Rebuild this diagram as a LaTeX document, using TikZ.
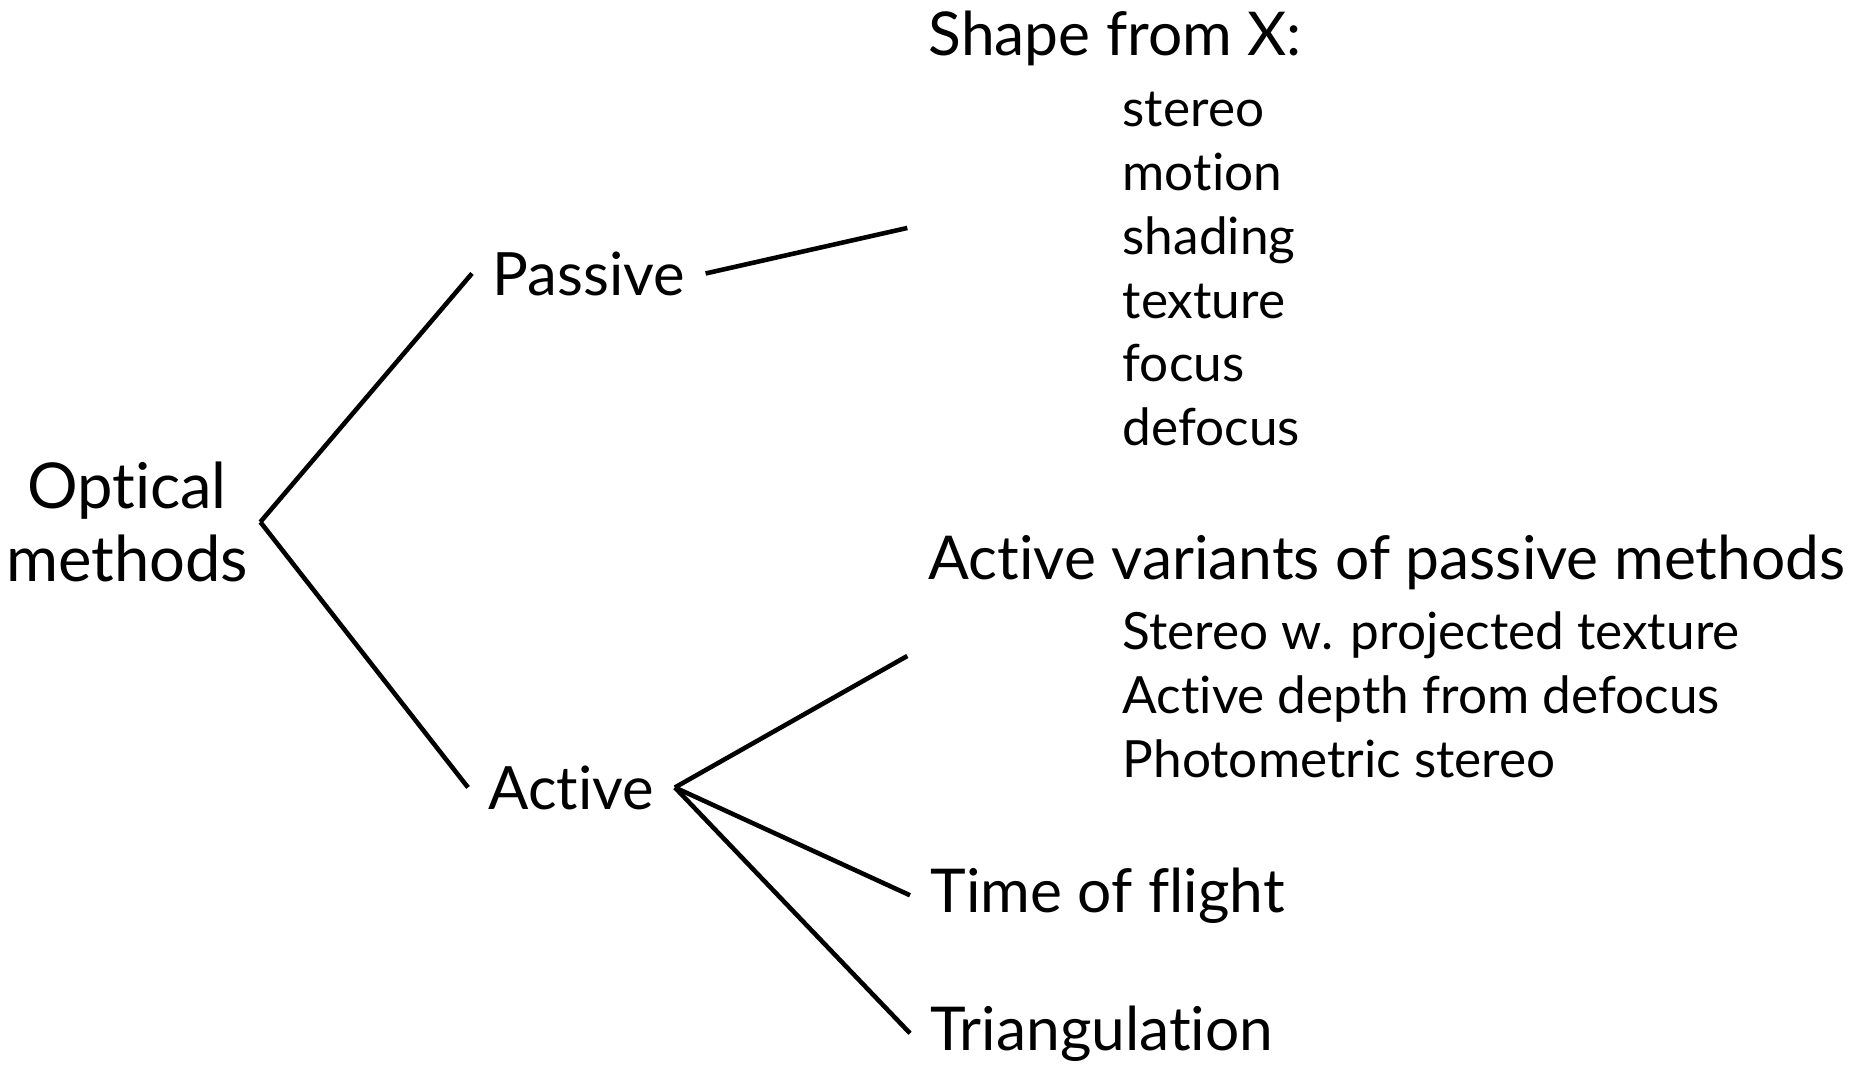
\documentclass[tikz,border=0pt]{standalone}
\usepackage{fontspec}
\setmainfont{Lato}[Ligatures=NoCommon]
\usetikzlibrary{positioning, calc, fit}

\begin{document}
\begin{tikzpicture}[
  font=\fontsize{17}{20}\selectfont,
  omtext/.style={anchor=base west, inner sep=0.2cm},
  omhead/.style={omtext, font=\fontsize{17.2}{20}\selectfont},
  omitem/.style={omtext, font=\fontsize{14.6}{17}\selectfont},
  omline/.style={draw=black, line width=1.3pt},
  omgroup/.style={inner sep=0pt}
]
\useasboundingbox (0,0) rectangle (18.54,-10.64);

%--------------------------------------------------------------
% Radice e primo livello
%--------------------------------------------------------------
\node[align=center, font=\fontsize{18}{20.8}\selectfont] (optical) at (1.27,-5.22)
  {Optical\\ methods};

\node[omtext] (passive) at (4.72,-2.95) {Passive};
\node[omtext] (active)  at (4.68,-8.09) {Active};

%--------------------------------------------------------------
% Metodi passivi
%--------------------------------------------------------------
\node[omhead] (shapehd) at (9.08,-0.55) {Shape from X:};
\node[omitem] (sx1) at (11.02,-1.26) {stereo};
\node[omitem] (sx2) at (11.02,-1.90) {motion};
\node[omitem] (sx3) at (11.02,-2.54) {shading};
\node[omitem] (sx4) at (11.02,-3.18) {texture};
\node[omitem] (sx5) at (11.02,-3.81) {focus};
\node[omitem] (sx6) at (11.02,-4.45) {defocus};
\node[omgroup, fit=(shapehd)(sx1)(sx2)(sx3)(sx4)(sx5)(sx6)] (shapex) {};

%--------------------------------------------------------------
% Metodi attivi
%--------------------------------------------------------------
\node[omhead] (actvarhd) at (9.08,-5.79) {Active variants of passive methods};
\node[omitem] (av1) at (11.02,-6.49) {Stereo w. projected texture};
\node[omitem] (av2) at (11.02,-7.13) {Active depth from defocus};
\node[omitem] (av3) at (11.02,-7.77) {Photometric stereo};
\node[omgroup, fit=(actvarhd)(av1)(av2)(av3)] (actvar) {};

\node[omhead] (tof) at (9.10,-9.12) {Time of flight};
\node[omhead] (tri) at (9.10,-10.50) {Triangulation};

%--------------------------------------------------------------
% Collegamenti
%--------------------------------------------------------------
\draw[omline] (optical.east) -- (passive.west);
\draw[omline] (optical.east) -- (active.west);
\draw[omline] (passive.east) -- (shapex.west);
\draw[omline] (active.east) -- (actvar.west);
\draw[omline] (active.east) -- (tof.west);
\draw[omline] (active.east) -- (tri.west);

\end{tikzpicture}
\end{document}
